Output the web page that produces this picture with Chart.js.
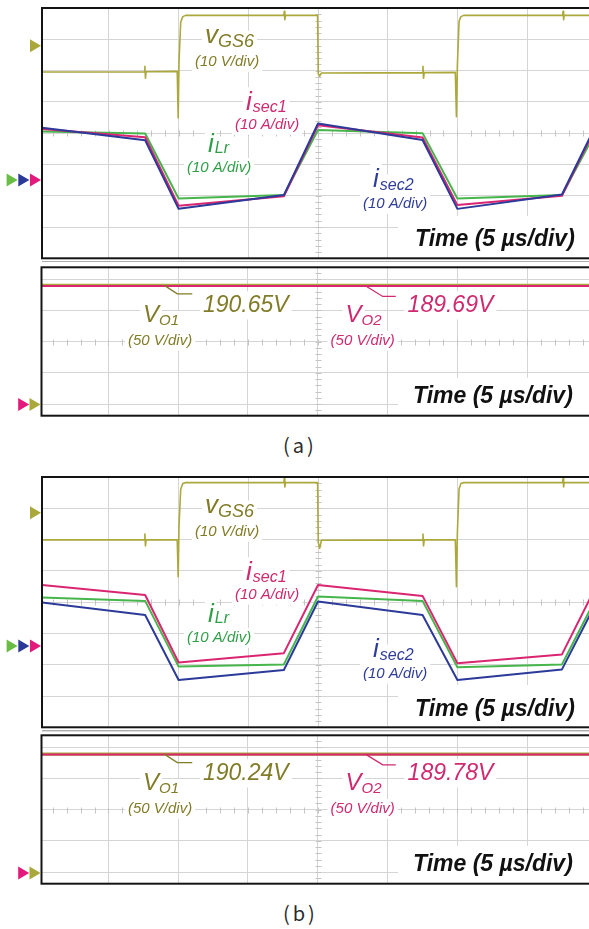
<!DOCTYPE html>
<html><head><meta charset="utf-8">
<script src="https://cdn.jsdelivr.net/npm/chart.js@4.4.1/dist/chart.umd.min.js"></script>
<style>
html,body{margin:0;padding:0;background:#fff;}
#wrap{position:relative;width:589px;height:929px;overflow:hidden;background:#fff;}
canvas{position:absolute;left:0;}
.cap{position:absolute;font-family:"Noto Sans CJK KR","Noto Sans",sans-serif;font-size:20px;color:#2a2a2a;letter-spacing:3px;line-height:24px;}
</style></head><body>
<div id="wrap">
<canvas id="cA1" width="589" height="262" style="top:0px"></canvas>
<canvas id="cA2" width="589" height="160" style="top:262px"></canvas>
<div class="cap" style="left:283px;top:433px">(a)</div>
<canvas id="cB1" width="589" height="262" style="top:470px"></canvas>
<canvas id="cB2" width="589" height="160" style="top:730px"></canvas>
<div class="cap" style="left:283px;top:901px">(b)</div>
</div>
<script>
// ================= DATA (time in µs, 5 µs/div) =================
// (a) gate voltage vGS6 [V]
const tGateA = [-19.8,-12.45,-12.42,-12.38,-12.33,-10.1,-10.03,-9.97,-9.85,-9.7,-9.5,-2.45,-2.42,-2.38,-2.33,-0.03,0.02,0.12,0.25,7.5,7.53,7.57,7.62,9.85,9.93,10.0,10.12,10.25,10.45,17.55,17.58,17.62,17.66,19.6];
const vGS6A  = [-8.4,-8.3,-6.6,-10.4,-8.3,-8.2,-23.1,-5.0,7.5,9.3,9.7,9.7,11.0,8.3,9.7,9.7,-9.0,-9.7,-8.7,-8.6,-6.6,-10.4,-8.6,-8.5,-22.7,-6.0,7.8,9.3,9.7,9.7,11.0,8.3,9.7,9.7];
// (a) currents [A]
const tCurA  = [-19.8,-12.4,-10.0,-2.45,0.0,7.5,10.0,17.5,20.0];
const iLrA   = [15.5,14.9,-5.9,-4.8,16.0,15.0,-5.9,-4.8,16.0];
const isec1A = [16.3,13.7,-8.2,-5.2,17.5,13.6,-8.0,-5.0,17.5];
const isec2A = [16.7,12.7,-9.2,-4.8,18.1,12.8,-9.2,-4.6,18.1];
// (a) output voltages [V]
const tOutA = [-19.8,19.44];
const vO1A  = [190.65,190.65];
const vO2A  = [189.69,189.69];
const vO1TextA = "190.65V";
const vO2TextA = "189.69V";

// (b) gate voltage vGS6 [V]
const tGateB = [-19.8,-12.45,-12.42,-12.38,-12.33,-10.1,-10.03,-9.97,-9.85,-9.7,-9.5,-2.45,-2.42,-2.38,-2.33,-0.03,0.02,0.12,0.25,7.5,7.53,7.57,7.62,9.85,9.93,10.0,10.12,10.25,10.45,17.55,17.58,17.62,17.66,19.6];
const vGS6B  = [-8.7,-8.7,-6.8,-10.6,-8.7,-8.7,-20.5,-4.0,7.5,9.3,9.6,9.6,11.0,8.2,9.6,9.6,-9.5,-11.4,-8.8,-8.7,-6.8,-10.6,-8.7,-8.7,-23.7,-6.0,7.6,9.3,9.6,9.6,11.0,8.2,9.6,9.6];
// (b) currents [A]
const tCurB  = [-19.8,-12.4,-10.0,-2.45,0.0,7.5,10.0,17.5,20.0];
const isec1B = [19.5,16.3,-5.3,-2.3,19.5,16.0,-5.5,-2.7,19.5];
const iLrB   = [15.5,14.4,-6.6,-5.9,15.8,14.4,-6.8,-5.9,15.8];
const isec2B = [13.9,9.9,-10.9,-7.7,14.2,9.9,-10.9,-7.5,14.2];
// (b) output voltages [V]
const tOutB = [-19.8,19.44];
const vO1B  = [190.24,190.24];
const vO2B  = [189.78,189.78];
const vO1TextB = "190.24V";
const vO2TextB = "189.78V";

// ================= STYLE =================
const COL = {olive:'#aba83c', pink:'#da2571', green:'#46b64c', blue:'#2c3a9a',
  tOlive:'#817c28', tPink:'#cf2a6f', tGreen:'#2f9f47', tBlue:'#2f3d9a',
  aOlive:'#aaa83a', aGreen:'#69bd45', aBlue:'#2b3a98', aPink:'#e3197b'};
const FF = '"Liberation Sans", Arial, sans-serif';

function ds(t, v, axis, color, w){
  return {data:t.map((x,i)=>({x:x,y:v[i]})), yAxisID:axis, borderColor:color, borderWidth:w,
    pointRadius:0, pointHoverRadius:0, tension:0, fill:false, borderJoinStyle:'round'};
}
function xScale(min,max){
  return {type:'linear', min:min, max:max, position:'bottom',
    afterBuildTicks:s=>{const a=[];for(let v=Math.ceil(min/5)*5;v<max;v+=5){if(v>min)a.push({value:v});}s.ticks=a;},
    afterFit:s=>{s.height=0;},
    grid:{color:'#d5d5d5', lineWidth:1, drawTicks:false}, border:{display:false}, ticks:{display:false}};
}
function gridY(min,max){
  return {type:'linear', axis:'y', position:'left', min:min, max:max,
    afterBuildTicks:s=>{const a=[];for(let v=Math.ceil(min);v<max;v+=1){if(v>min)a.push({value:v});}s.ticks=a;},
    afterFit:s=>{s.width=0;},
    grid:{color:'#d5d5d5', lineWidth:1, drawTicks:false}, border:{display:false}, ticks:{display:false}};
}
function font(r){return (r.st||'italic')+' '+r.s+'px '+FF;}
function layoutRuns(ctx, runs){
  let cx=0, cy=0; const out=[];
  runs.forEach(r=>{
    ctx.font=font(r);
    const w=ctx.measureText(r.t).width;
    const x=(r.x!=null)?r.x:cx+(r.gap||0);
    const y=(r.y!=null)?r.y:cy+(r.dy||0);
    out.push({r:r,x:x,y:y,w:w});
    cx=x+w; if(r.y!=null) cy=r.y;
  });
  return out;
}
const scopePlugin = {
  id:'scope',
  beforeDatasetsDraw(chart, args, o){
    const ctx=chart.ctx, ca=chart.chartArea, xs=chart.scales.x, yg=chart.scales.yg;
    ctx.save();
    // center-line minor ticks
    const cx=Math.round(xs.getPixelForValue(0))+0.5, cy=Math.round(yg.getPixelForValue(0))+0.5;
    ctx.strokeStyle='#c4c4c4'; ctx.lineWidth=1; ctx.beginPath();
    for(let t=Math.ceil(xs.min);t<=xs.max;t+=1){const px=Math.round(xs.getPixelForValue(t))+0.5;ctx.moveTo(px,cy-3);ctx.lineTo(px,cy+3);}
    for(let d=Math.ceil(yg.min*5);d<=yg.max*5;d+=1){const py=Math.round(yg.getPixelForValue(d/5))+0.5;ctx.moveTo(cx-3,py);ctx.lineTo(cx+3,py);}
    ctx.stroke();
    // white backgrounds behind annotations
    ctx.fillStyle='#fff';
    (o.labels||[]).forEach(L=>{
      layoutRuns(ctx,L.runs).forEach(p=>{ctx.fillRect(p.x-3,p.y-p.r.s*0.8-2,p.w+6,p.r.s*1.05+4);});
    });
    const tb=o.timeBox; ctx.fillRect(tb.x, ca.top+tb.top, ca.right-tb.x+2, ca.bottom-ca.top-tb.top);
    ctx.restore();
  },
  afterDatasetsDraw(chart, args, o){
    const ctx=chart.ctx;
    ctx.save();
    (o.leaders||[]).forEach(Ld=>{
      const x0=chart.scales.x.getPixelForValue(Ld.t), y0=chart.scales[Ld.axis].getPixelForValue(Ld.v);
      ctx.strokeStyle=Ld.color; ctx.lineWidth=1.3; ctx.beginPath(); ctx.moveTo(x0,y0);
      Ld.pts.forEach(p=>ctx.lineTo(x0+p[0],y0+p[1])); ctx.stroke();
    });
    ctx.textBaseline='alphabetic';
    (o.labels||[]).forEach(L=>{
      ctx.fillStyle=L.color;
      layoutRuns(ctx,L.runs).forEach(p=>{ctx.font=font(p.r);ctx.fillText(p.r.t,p.x,p.y);});
    });
    ctx.restore();
  },
  afterDraw(chart, args, o){
    const ctx=chart.ctx, ca=chart.chartArea;
    ctx.save();
    ctx.strokeStyle='#141414'; ctx.lineWidth=2;
    ctx.strokeRect(ca.left, ca.top, ca.right-ca.left+10, ca.bottom-ca.top);
    if(o.underline){ctx.strokeStyle='#8a8a8a';ctx.lineWidth=1;ctx.beginPath();ctx.moveTo(ca.left,ca.bottom+3.5);ctx.lineTo(ca.right,ca.bottom+3.5);ctx.stroke();}
    (o.arrows||[]).forEach(A=>{
      const y=chart.scales[A.axis].getPixelForValue(0), tip=ca.left-1+A.dx;
      ctx.fillStyle=A.color; ctx.beginPath();
      ctx.moveTo(tip,y); ctx.lineTo(tip-11,y-6.5); ctx.lineTo(tip-11,y+6.5); ctx.closePath(); ctx.fill();
    });
    ctx.restore();
  }
};

const topLabels = [
  {color:COL.tOlive, runs:[{t:'v',s:26,x:205,y:43},{t:'GS6',s:18,dy:4,gap:0}]},
  {color:COL.tOlive, runs:[{t:'(10 V/div)',s:15,x:195,y:66}]},
  {color:COL.tPink, runs:[{t:'i',s:26,x:246,y:110},{t:'sec1',s:16,dy:2,gap:1}]},
  {color:COL.tPink, runs:[{t:'(10 A/div)',s:15,x:235,y:129}]},
  {color:COL.tGreen, runs:[{t:'i',s:26,x:208,y:151.5},{t:'Lr',s:16,dy:1.5,gap:1}]},
  {color:COL.tGreen, runs:[{t:'(10 A/div)',s:15,x:187,y:172}]},
  {color:COL.tBlue, runs:[{t:'i',s:26,x:373,y:186.5},{t:'sec2',s:16,dy:3,gap:1}]},
  {color:COL.tBlue, runs:[{t:'(10 A/div)',s:15,x:363,y:208}]},
  {color:'#111', runs:[{t:'Time (5 µs/div)',s:23,st:'bold italic',x:415,y:246}]}
];
function bottomLabels(t1,t2){
  return [
    {color:COL.tOlive, runs:[{t:'V',s:24,x:143,y:59.7},{t:'O1',s:15,dy:3.5,gap:0}]},
    {color:COL.tOlive, runs:[{t:'(50 V/div)',s:15,x:128,y:83}]},
    {color:COL.tOlive, runs:[{t:t1,s:23,x:203,y:49.7}]},
    {color:COL.tPink, runs:[{t:'V',s:24,x:345.6,y:59.7},{t:'O2',s:15,dy:3.5,gap:0}]},
    {color:COL.tPink, runs:[{t:'(50 V/div)',s:15,x:330.6,y:83}]},
    {color:COL.tPink, runs:[{t:t2,s:23,x:407.6,y:49.7}]},
    {color:'#111', runs:[{t:'Time (5 µs/div)',s:23,st:'bold italic',x:413,y:141.3}]}
  ];
}

function topChart(id, g, d){
  return new Chart(document.getElementById(id), {
    type:'line',
    data:{datasets:[
      ds(d.tCur,d.isec2,'yI',COL.blue,2),
      ds(d.tCur,d.isec1,'yI',COL.pink,2),
      ds(d.tCur,d.iLr,'yI',COL.green,2),
      ds(d.tGate,d.vgs,'yV',COL.olive,1.6)
    ]},
    options:{responsive:false, animation:false, devicePixelRatio:1,
      layout:{padding:g.pad}, events:[],
      plugins:{legend:{display:false}, tooltip:{enabled:false},
        scope:{labels:topLabels, timeBox:{x:398,top:208}, underline:true,
          arrows:[{axis:'yV',color:COL.aOlive,dx:0},{axis:'yI',color:COL.aPink,dx:0},{axis:'yI',color:COL.aBlue,dx:-11.7},{axis:'yI',color:COL.aGreen,dx:-23.4}]}},
      scales:{x:xScale(-19.8,19.44), yg:gridY(-4,4),
        yI:{type:'linear',display:false,min:g.iMin,max:g.iMax},
        yV:{type:'linear',display:false,min:g.vMin,max:g.vMax}}},
    plugins:[scopePlugin]
  });
}
function bottomChart(id, g, d){
  return new Chart(document.getElementById(id), {
    type:'line',
    data:{datasets:[
      ds(d.t,d.vO2,'yO',COL.pink,2),
      ds(d.t,d.vO1,'yO',COL.olive,3.4)
    ]},
    options:{responsive:false, animation:false, devicePixelRatio:1,
      layout:{padding:g.pad}, events:[],
      plugins:{legend:{display:false}, tooltip:{enabled:false},
        scope:{labels:bottomLabels(d.txt1,d.txt2), timeBox:{x:398,top:110.5},
          leaders:[{axis:'yO',t:-11.0,v:d.vO1[0],color:COL.tOlive,pts:[[13,8.5],[28,8.5]]},
                   {axis:'yO',t:3.44,v:d.vO2[0],color:COL.tPink,pts:[[17,10.5],[30,10.5]]}],
          arrows:[{axis:'yO',color:COL.aOlive,dx:0},{axis:'yO',color:COL.aPink,dx:-11.3}]}},
      scales:{x:xScale(-19.8,19.44), yg:gridY(g.gMin,g.gMax),
        yO:{type:'linear',display:false,min:g.oMin,max:g.oMax}}},
    plugins:[scopePlugin]
  });
}

topChart('cA1', {pad:{left:42,top:8,right:0,bottom:3.7}, iMin:-25.0,iMax:55.0, vMin:-67.9,vMax:12.05},
  {tCur:tCurA, iLr:iLrA, isec1:isec1A, isec2:isec2A, tGate:tGateA, vgs:vGS6A});
bottomChart('cA2', {pad:{left:41.5,top:5.3,right:0,bottom:6.3}, gMin:-2.37,gMax:2.38, oMin:-17.9,oMax:219.5},
  {t:tOutA, vO1:vO1A, vO2:vO2A, txt1:vO1TextA, txt2:vO2TextA});
topChart('cB1', {pad:{left:42,top:7,right:0,bottom:4.7}, iMin:-26.0,iMax:54.0, vMin:-68.6,vMax:11.4},
  {tCur:tCurB, iLr:iLrB, isec1:isec1B, isec2:isec2B, tGate:tGateB, vgs:vGS6B});
bottomChart('cB2', {pad:{left:41.5,top:5.3,right:0,bottom:6.3}, gMin:-2.37,gMax:2.38, oMin:-17.1,oMax:220.3},
  {t:tOutB, vO1:vO1B, vO2:vO2B, txt1:vO1TextB, txt2:vO2TextB});
</script>
</body></html>
